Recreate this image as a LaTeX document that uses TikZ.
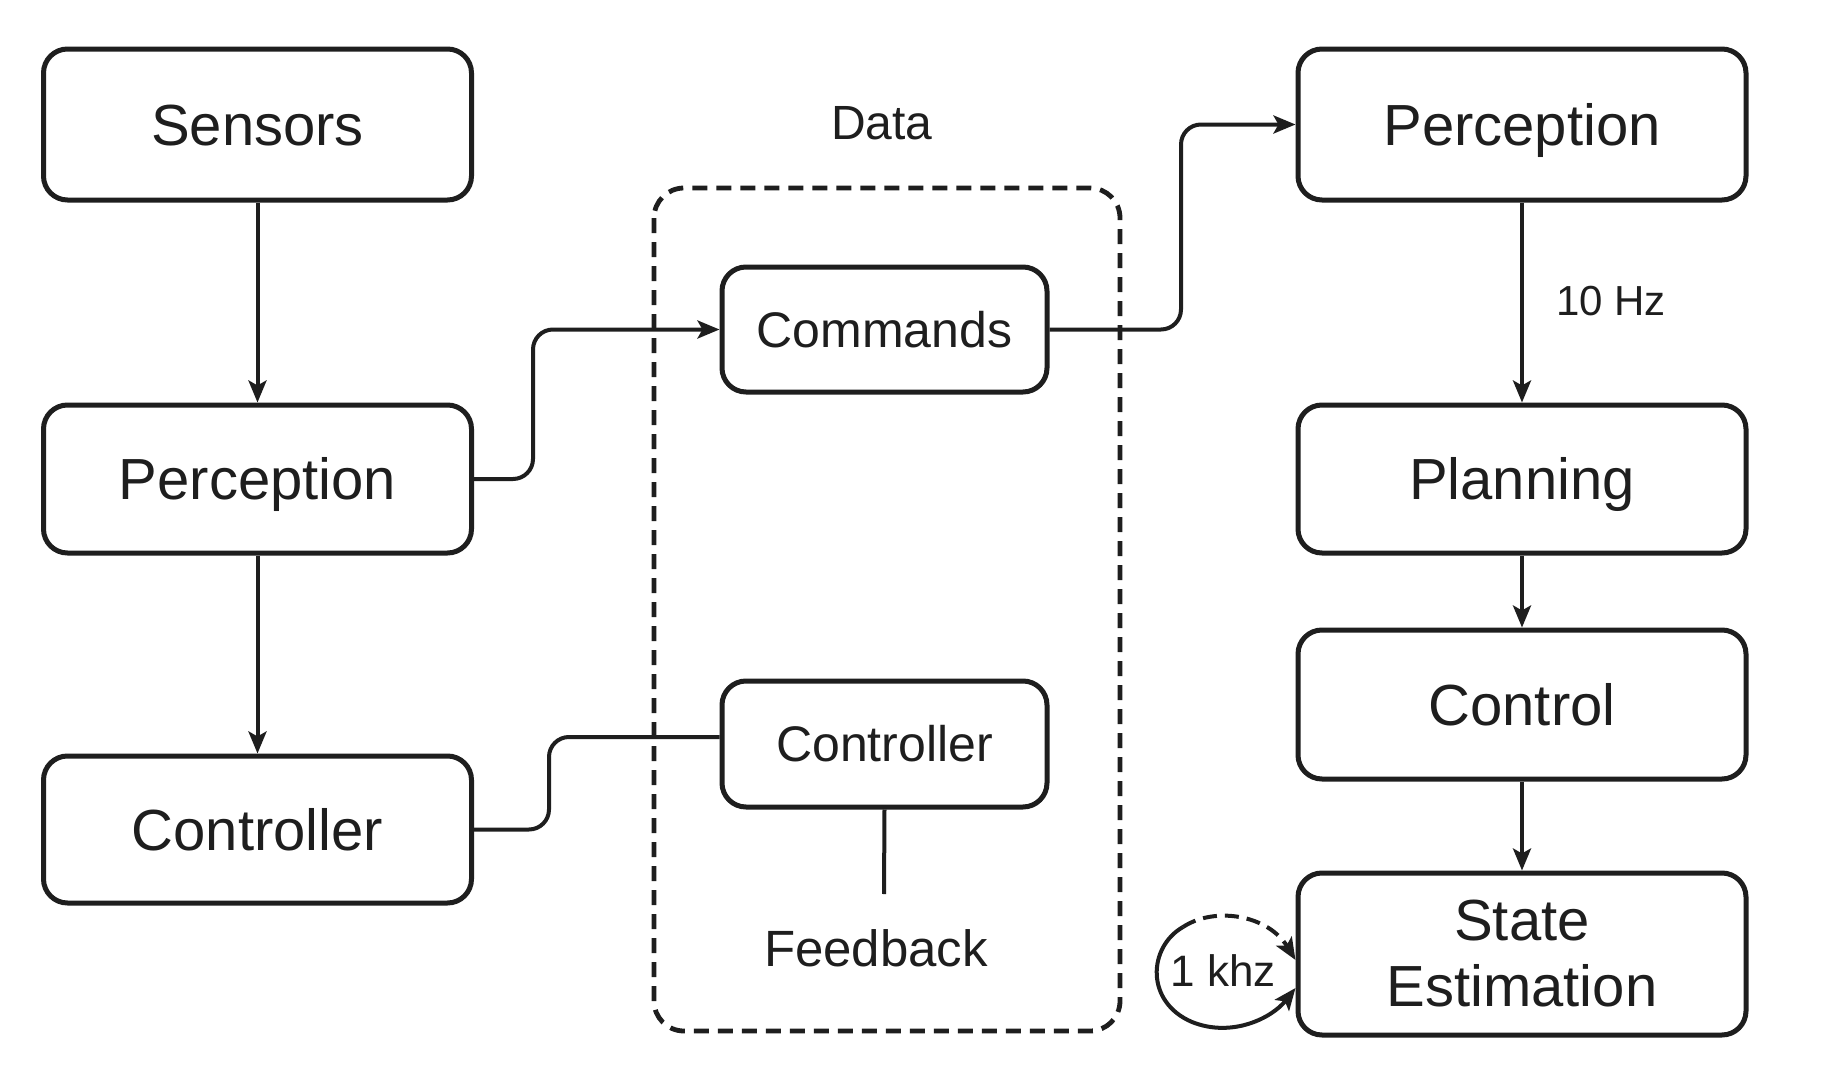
\documentclass[tikz,border=0pt]{standalone}
\usepackage{fontspec}
\setmainfont{Liberation Sans}
\usetikzlibrary{arrows.meta,calc}
\definecolor{ink}{HTML}{1E1E1E}
\begin{document}
\begin{tikzpicture}[x=0.5pt,y=-0.5pt,
  box/.style={draw=ink,line width=2.5pt,rounded corners=12pt,fill=white,text=ink,inner sep=0pt},
  one/.style={text height=20.8pt,text depth=0pt},
  onemid/.style={text height=17.9pt,text depth=0pt},
  bigbox/.style={box,one,minimum width=214pt,font=\fontsize{29}{33}\selectfont},
  rbox/.style={box,minimum width=224pt,font=\fontsize{29}{33}\selectfont},
  midbox/.style={box,onemid,minimum width=162.5pt,minimum height=62.5pt,font=\fontsize{25}{30}\selectfont},
  lbl/.style={text=ink,inner sep=0pt},
  conn/.style={draw=ink,line width=2pt},
  arr/.style={conn,-{Stealth[length=11pt,width=9pt,inset=2.5pt]}},
  fr/.style={draw=ink,line width=2.4pt,dash pattern=on 7.5pt off 4.5pt,rounded corners=15pt}
]
\useasboundingbox (0,0) rectangle (1844,1076);
\fill[white] (0,0) rectangle (1844,1076);

% dashed frame
\draw[fr] (654,188) rectangle (1120,1031);

% left column
\node[bigbox,minimum height=75.5pt] (sens) at (257.5,124.5) {Sensors};
\node[bigbox,minimum height=74pt] (perL) at (257.5,479) {Perception};
\node[bigbox,minimum height=73.5pt] (ctrlL) at (257.5,829.5) {Controller};

% middle
\node[lbl,font=\fontsize{24}{28}\selectfont] (data) at (882,123) {Data};
\node[midbox] (cmd) at (884.5,329.5) {Commands};
\node[midbox,minimum height=63pt] (ctrlM) at (884.5,744) {Controller};
\node[lbl,font=\fontsize{25.5}{30}\selectfont] (fb) at (876,948) {Feedback};
\coordinate (fbend) at (884,894);

% right column
\node[rbox,one,minimum height=75.5pt] (perR) at (1522,124.5) {Perception};
\node[rbox,one,minimum height=74pt] (plan) at (1522,479) {Planning};
\node[rbox,one,minimum height=74.5pt] (ctl) at (1522,704.5) {Control};
\node[rbox,minimum height=81pt,align=center] (se) at (1522,954) {State\\Estimation};
\node[lbl,font=\fontsize{21}{25}\selectfont] (hz) at (1611,301) {10 Hz};
\node[lbl,font=\fontsize{22}{26}\selectfont] (kh) at (1223,971) {1 khz};

% helper coordinates
\coordinate (m1) at (533,0);
\coordinate (m2) at (1181,0);
\coordinate (m3) at (549,737);

% connectors
\draw[arr] (sens) -- (perL);
\draw[arr] (perL) -- (ctrlL);
\draw[arr,rounded corners=10pt] (perL.east) -- (perL.east -| m1) -- (m1 |- cmd.west) -- (cmd.west);
\draw[arr,rounded corners=10pt] (cmd.east) -- (cmd.east -| m2) -- (m2 |- perR.west) -- (perR.west);
\draw[conn,rounded corners=10pt] (ctrlL.east) -- (ctrlL.east -| m3) -- (m3) -- (ctrlM.west |- m3);
\draw[conn] (ctrlM.south) -- (fbend);

\draw[arr] (perR) -- (plan);
\draw[arr] (plan) -- (ctl);
\draw[arr] (ctl) -- (se);

% 1 khz loop
\coordinate (lp0) at (1183,927);
\coordinate (lpa) at ($(se.west)+(0,6)$);
\coordinate (lpb) at ($(se.west)+(0,34)$);
\draw[arr,dash pattern=on 7pt off 4pt] (lp0) .. controls (1215,906) and (1268,915) .. (lpa);
\draw[arr] (lp0) .. controls (1148,947) and (1145,1002) .. (1192,1022) .. controls (1232,1038) and (1272,1018) .. (lpb);
\end{tikzpicture}
\end{document}
